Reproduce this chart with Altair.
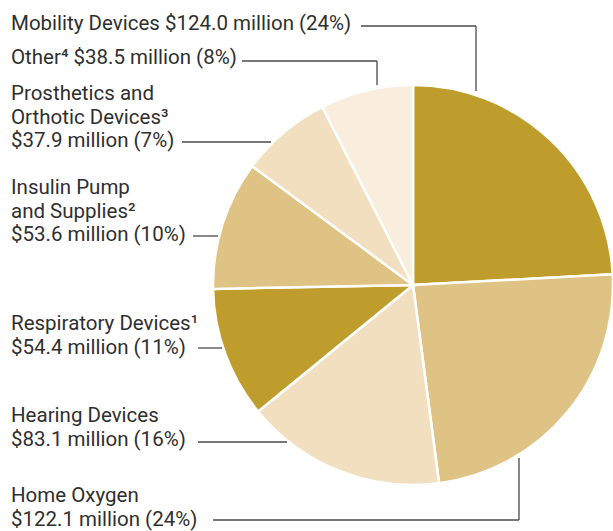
import altair as alt
import pandas as pd

# ---- data ----
categories = ["Mobility Devices", "Home Oxygen", "Hearing Devices", "Respiratory Devices",
              "Insulin Pump and Supplies", "Prosthetics and Orthotic Devices", "Other"]
values = [124.0, 122.1, 83.1, 54.4, 53.6, 37.9, 38.5]
colors = ["#BF9D2C", "#DFC384", "#F2DFBF", "#BF9D2C", "#DFC384", "#F2DFBF", "#F9EDDD"]

label_lines = [
    ["Mobility Devices $124.0 million (24%)"],
    ["Home Oxygen", "$122.1 million (24%)"],
    ["Hearing Devices", "$83.1 million (16%)"],
    ["Respiratory Devices\u00b9", "$54.4 million (11%)"],
    ["Insulin Pump", "and Supplies\u00b2", "$53.6 million (10%)"],
    ["Prosthetics and", "Orthotic Devices\u00b3", "$37.9 million (7%)"],
    ["Other\u2074 $38.5 million (8%)"],
]

# ---- layout (pixel positions of annotations) ----
label_top_baseline = [29.5, 502, 422, 330, 194, 100, 64]
line_step = 23.7
label_x = 11
leaders = [  # (x, y, x2, y2)
    [(361, 26, 476, 26), (476, 26, 476, 91)],
    [(213, 520, 519, 520), (519, 520, 519, 458)],
    [(198, 442, 287, 442)],
    [(198, 348, 222, 348)],
    [(193, 236, 218, 236)],
    [(182, 142, 271, 142)],
    [(242, 61, 377, 61), (377, 61, 377, 85)],
]
cx, cy, radius = 413, 285, 200

pie_df = pd.DataFrame({"category": categories, "value": values, "order": list(range(len(values)))})

text_rows = []
for lines, b in zip(label_lines, label_top_baseline):
    for i, t in enumerate(lines):
        text_rows.append({"text": t, "x": label_x, "y": b + i * line_step})
text_df = pd.DataFrame(text_rows)

rule_rows = []
for segs in leaders:
    for (x1, y1, x2, y2) in segs:
        rule_rows.append({"x": x1, "y": y1, "x2": x2, "y2": y2})
rule_df = pd.DataFrame(rule_rows)

pie = alt.Chart(pie_df).mark_arc(outerRadius=radius, stroke="white", strokeWidth=2.5).encode(
    theta=alt.Theta("value:Q", stack=True),
    order=alt.Order("order:Q"),
    color=alt.Color("category:N", scale=alt.Scale(domain=categories, range=colors), legend=None),
    x=alt.value(cx),
    y=alt.value(cy),
)

rules = alt.Chart(rule_df).mark_rule(color="#4a4a4a", strokeWidth=1.3).encode(
    x=alt.X("x:Q", scale=None, axis=None),
    y=alt.Y("y:Q", scale=None, axis=None),
    x2="x2:Q",
    y2="y2:Q",
)

texts = alt.Chart(text_df).mark_text(
    align="left", baseline="alphabetic", font="Roboto", fontSize=20.5, color="#2f2f2f"
).encode(
    x=alt.X("x:Q", scale=None, axis=None),
    y=alt.Y("y:Q", scale=None, axis=None),
    text="text:N",
)

chart = alt.layer(pie, rules, texts).properties(
    width=613, height=531, padding=0, autosize=alt.AutoSizeParams(type="none")
).configure_view(stroke=None)

chart.save("out.html", embed_options={"renderer": "svg", "actions": False})
